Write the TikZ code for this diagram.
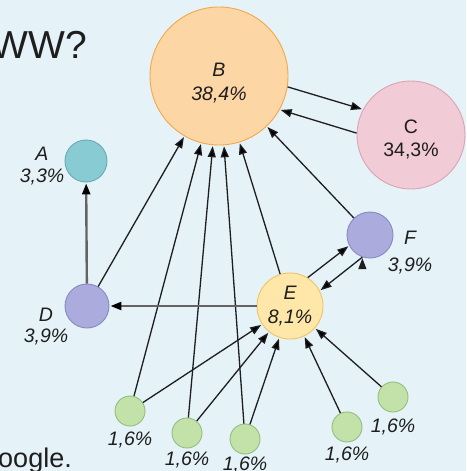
\documentclass[tikz,border=0pt]{standalone}
\usepackage{fontspec}
\setmainfont{Liberation Sans}
\usetikzlibrary{arrows.meta,positioning}

\definecolor{paper}{RGB}{229,242,248}
\definecolor{ink}{RGB}{30,30,30}
\definecolor{wire}{RGB}{30,30,30}
\definecolor{wiregray}{RGB}{100,100,100}
\definecolor{bfill}{RGB}{253,214,166}
\definecolor{bline}{RGB}{244,168,72}
\definecolor{cfill}{RGB}{241,203,213}
\definecolor{cline}{RGB}{222,163,178}
\definecolor{afill}{RGB}{137,203,211}
\definecolor{aline}{RGB}{104,170,180}
\definecolor{dfill}{RGB}{172,171,222}
\definecolor{dline}{RGB}{138,137,192}
\definecolor{efill}{RGB}{254,231,168}
\definecolor{eline}{RGB}{240,196,100}
\definecolor{gfill}{RGB}{195,226,170}
\definecolor{gline}{RGB}{146,190,122}

\begin{document}
\begin{tikzpicture}[x=1pt,y=-1pt,on grid,
  site/.style={circle,draw,line width=0.9pt,inner sep=0pt},
  leaf/.style={site,fill=gfill,draw=gline,minimum size=30pt},
  share/.style={font=\fontsize{19.5}{24}\selectfont\itshape,text=ink,align=center,inner sep=0pt},
  link/.style={-{Triangle[length=11pt,width=8pt]},line width=1.3pt,draw=wire,shorten >=1pt},
  heavylink/.style={link,-{Triangle[length=11pt,width=8pt,color=black]},line width=2.4pt,draw=wiregray}]
  \fill[paper] (0,0) rectangle (466,471);
  \useasboundingbox (0,0) rectangle (466,471);

  \node[font=\fontsize{39}{39}\selectfont,text=ink,anchor=base east,inner sep=0pt] (title) at (87,58) {WW?};
  \node[font=\fontsize{27}{27}\selectfont,text=ink,anchor=base east,inner sep=0pt] (source) at (72,467) {oogle.};

  % pages
  \node[site,fill=bfill,draw=bline,minimum size=138pt] (B) at (219,76) {};
  \node[site,fill=cfill,draw=cline,minimum size=108pt] (C) at (411,135) {};
  \node[site,fill=afill,draw=aline,minimum size=42pt] (A) at (86,161) {};
  \node[site,fill=dfill,draw=dline,minimum size=44pt] (D) at (87,306) {};
  \node[site,fill=efill,draw=eline,minimum size=66pt] (E) at (290,306) {};
  \node[site,fill=dfill,draw=dline,minimum size=46pt] (F) at (370,235) {};
  \node[leaf] (g1) at (130,411) {};
  \node[leaf] (g2) at (187,433) {};
  \node[leaf] (g3) at (245,439) {};
  \node[leaf] (g4) at (347,427) {};
  \node[leaf] (g5) at (393,397) {};

  % ranks
  \node[share] (tB) [below=7pt of B] {B\\38,4\%};
  \node[share,font=\fontsize{19.5}{23}\selectfont] (tC) [below=4pt of C] {C\\34,3\%};
  \node[share] (tE) at (E) {E\\8,1\%};
  \node[share,font=\fontsize{19.5}{22}\selectfont\itshape] (tA) [below left=5pt and 44pt of A] {A\\3,3\%};
  \node[share,font=\fontsize{19.5}{21}\selectfont\itshape] (tD) [below left=21pt and 41pt of D] {D\\3,9\%};
  \node[share,font=\fontsize{19.5}{27}\selectfont\itshape] (tF) [below right=18pt and 40pt of F] {F\\3,9\%};
  \node[share] (t1) [below=29pt of g1] {1,6\%};
  \node[share] (t2) [below=27pt of g2] {1,6\%};
  \node[share] (t3) [below=26pt of g3] {1,6\%};
  \node[share] (t4) [below=28pt of g4] {1,6\%};
  \node[share] (t5) [below=30pt of g5] {1,6\%};

  \path[link]
  (B.-9) edge (C.152)
  (C.178) edge (B.-29)
  (D) edge (B)
  (E) edge (B)
  (F) edge (B)
  (E.58) edge (F.207)
  (F.251) edge (E.27)
  (g1) edge (B) edge (E)
  (g2) edge (B) edge (E)
  (g3) edge (B) edge (E)
  (g4) edge (E)
  (g5) edge (E);
  \path[heavylink]
  (D) edge (A)
  (E) edge (D);
\end{tikzpicture}
\end{document}
